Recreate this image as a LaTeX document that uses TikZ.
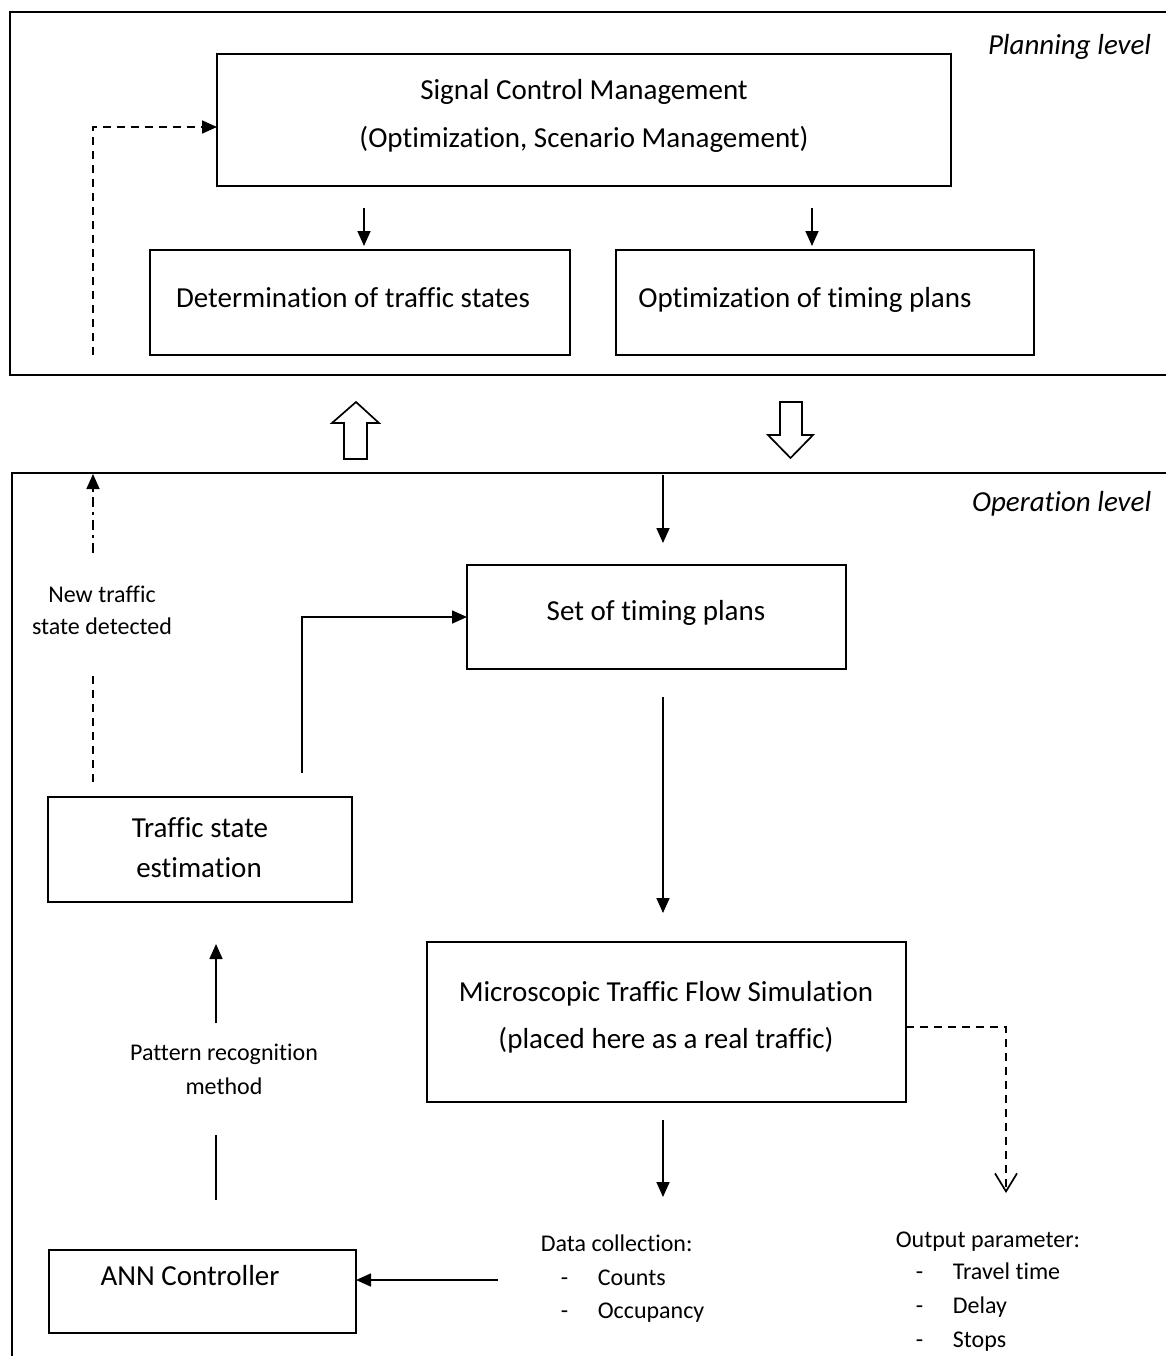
\documentclass[tikz,border=0pt]{standalone}
\usepackage{fontspec}
\setmainfont{Carlito}[Ligatures={NoCommon}]
\usetikzlibrary{arrows.meta}
\begin{document}
\begin{tikzpicture}[x=0.5pt,y=-0.5pt,
  line width=0.85pt,
  box/.style={draw, line width=0.85pt, inner sep=0pt, outer sep=0pt, anchor=north west},
  txt/.style={anchor=base, inner sep=0pt, font=\fontsize{14.5}{17}\selectfont},
  small/.style={anchor=base, inner sep=0pt, font=\fontsize{12}{14}\selectfont},
  smallw/.style={anchor=base west, inner sep=0pt, font=\fontsize{12}{14}\selectfont},
  lvl/.style={anchor=base east, inner sep=0pt, font=\fontsize{14.5}{17}\selectfont\itshape},
  arr/.style={-{Triangle[length=7.5pt,width=6.5pt]}},
  openarr/.style={-{Straight Barb[length=9pt,width=11pt,line width=0.85pt]}},
  dashline/.style={dash pattern=on 4pt off 3pt},
  dashdot/.style={dash pattern=on 5pt off 2.5pt on 1.5pt off 2.5pt},
  hollow/.style={draw, fill=white, line join=miter}
]
\useasboundingbox (0,0) rectangle (1166,1356);
\clip (0,0) rectangle (1166,1356);

% level frames
\draw (10,12) rectangle (1185,375);
\draw (12,473) rectangle (1185,1375);
\node[lvl] (planlbl) at (1152,54) {Planning level};
\node[lvl] (oplbl) at (1152,511) {Operation level};

% planning level boxes
\node[box, minimum width=367pt, minimum height=66pt] (signal) at (217,54) {};
\node[txt] (signal1) at (584,99) {Signal Control Management};
\node[txt] (signal2) at (584,147) {(Optimization, Scenario Management)};
\node[box, minimum width=210pt, minimum height=52.5pt] (determ) at (150,250) {};
\node[txt] (determt) at (353,307) {Determination of traffic states};
\node[box, minimum width=209pt, minimum height=52.5pt] (optim) at (616,250) {};
\node[txt] (optimt) at (805,307) {Optimization of timing plans};

\coordinate (sd0) at (364,208); \coordinate (sd1) at (364,246);
\coordinate (so0) at (812,208); \coordinate (so1) at (812,246);
\draw[arr] (sd0) -- (sd1);
\draw[arr] (so0) -- (so1);
\coordinate (fb0) at (93,355); \coordinate (fb1) at (93,127);
\draw[arr, dashline] (fb0) -- (fb1) -- (signal.west |- fb1);

% hollow block arrows between the levels
\draw[hollow] (356,402) -- (379,423) -- (367,423) -- (367,459) -- (344,459) -- (344,423) -- (332,423) -- cycle;
\draw[hollow] (780,402) -- (802,402) -- (802,435) -- (813,435) -- (790.5,458) -- (768,435) -- (780,435) -- cycle;

% operation level boxes
\node[box, minimum width=189.5pt, minimum height=52pt] (plans) at (467,565) {};
\node[txt] (planst) at (656,620) {Set of timing plans};
\node[box, minimum width=239.5pt, minimum height=80pt] (micro) at (427,942) {};
\node[txt] (micro1) at (666,1001) {Microscopic Traffic Flow Simulation};
\node[txt] (micro2) at (666,1048) {(placed here as a real traffic)};
\node[box, minimum width=152pt, minimum height=52.5pt] (tse) at (48,797) {};
\node[txt] (tse1) at (200,837) {Traffic state};
\node[txt] (tse2) at (199,877) {estimation};
\node[box, minimum width=153.5pt, minimum height=41.5pt] (ann) at (49,1250) {};
\node[txt] (annt) at (190,1285) {ANN Controller};

% side texts
\node[small] (new1) at (102,602) {New traffic};
\node[small] (new2) at (102,634) {state detected};
\node[small] (pat1) at (224,1060) {Pattern recognition};
\node[small] (pat2) at (224,1094) {method};
\node[smallw] (dc0) at (540,1251) {Data collection:};
\node[smallw] (dc1d) at (560,1285) {-};
\node[smallw] (dc1) at (597,1285) {Counts};
\node[smallw] (dc2d) at (560,1318) {-};
\node[smallw] (dc2) at (597,1318) {Occupancy};
\node[smallw] (op0) at (895,1247) {Output parameter:};
\node[smallw] (op1d) at (915,1279) {-};
\node[smallw] (op1) at (952,1279) {Travel time};
\node[smallw] (op2d) at (915,1313) {-};
\node[smallw] (op2) at (952,1313) {Delay};
\node[smallw] (op3d) at (915,1347) {-};
\node[smallw] (op3) at (952,1347) {Stops};

% operation level connectors
\coordinate (in0) at (663,475); \coordinate (in1) at (663,543);
\draw[arr] (in0) -- (in1);
\coordinate (pm0) at (663,697); \coordinate (pm1) at (663,913);
\draw[arr] (pm0) -- (pm1);
\coordinate (md0) at (663,1120); \coordinate (md1) at (663,1197);
\draw[arr] (md0) -- (md1);
\coordinate (mo0) at (906,1027); \coordinate (mo1) at (1006,1193);
\draw[openarr, dashline] (micro.east |- mo0) -| (mo1);
\coordinate (dc) at (498,1280);
\draw[arr] (dc) -- (ann.east |- dc);
\coordinate (pr0) at (216,1200); \coordinate (pr1) at (216,1135);
\draw (pr0) -- (pr1);
\coordinate (pr2) at (216,1023); \coordinate (pr3) at (216,944);
\draw[arr] (pr2) -- (pr3);
\coordinate (ts0) at (302,773);
\draw[arr] (ts0) |- (plans.west);
\coordinate (nd0) at (93,782); \coordinate (nd1) at (93,676);
\draw[dashline] (nd0) -- (nd1);
\coordinate (nd2) at (93,553); \coordinate (nd3) at (93,474);
\draw[arr, dashdot] (nd2) -- (nd3);
\end{tikzpicture}
\end{document}
